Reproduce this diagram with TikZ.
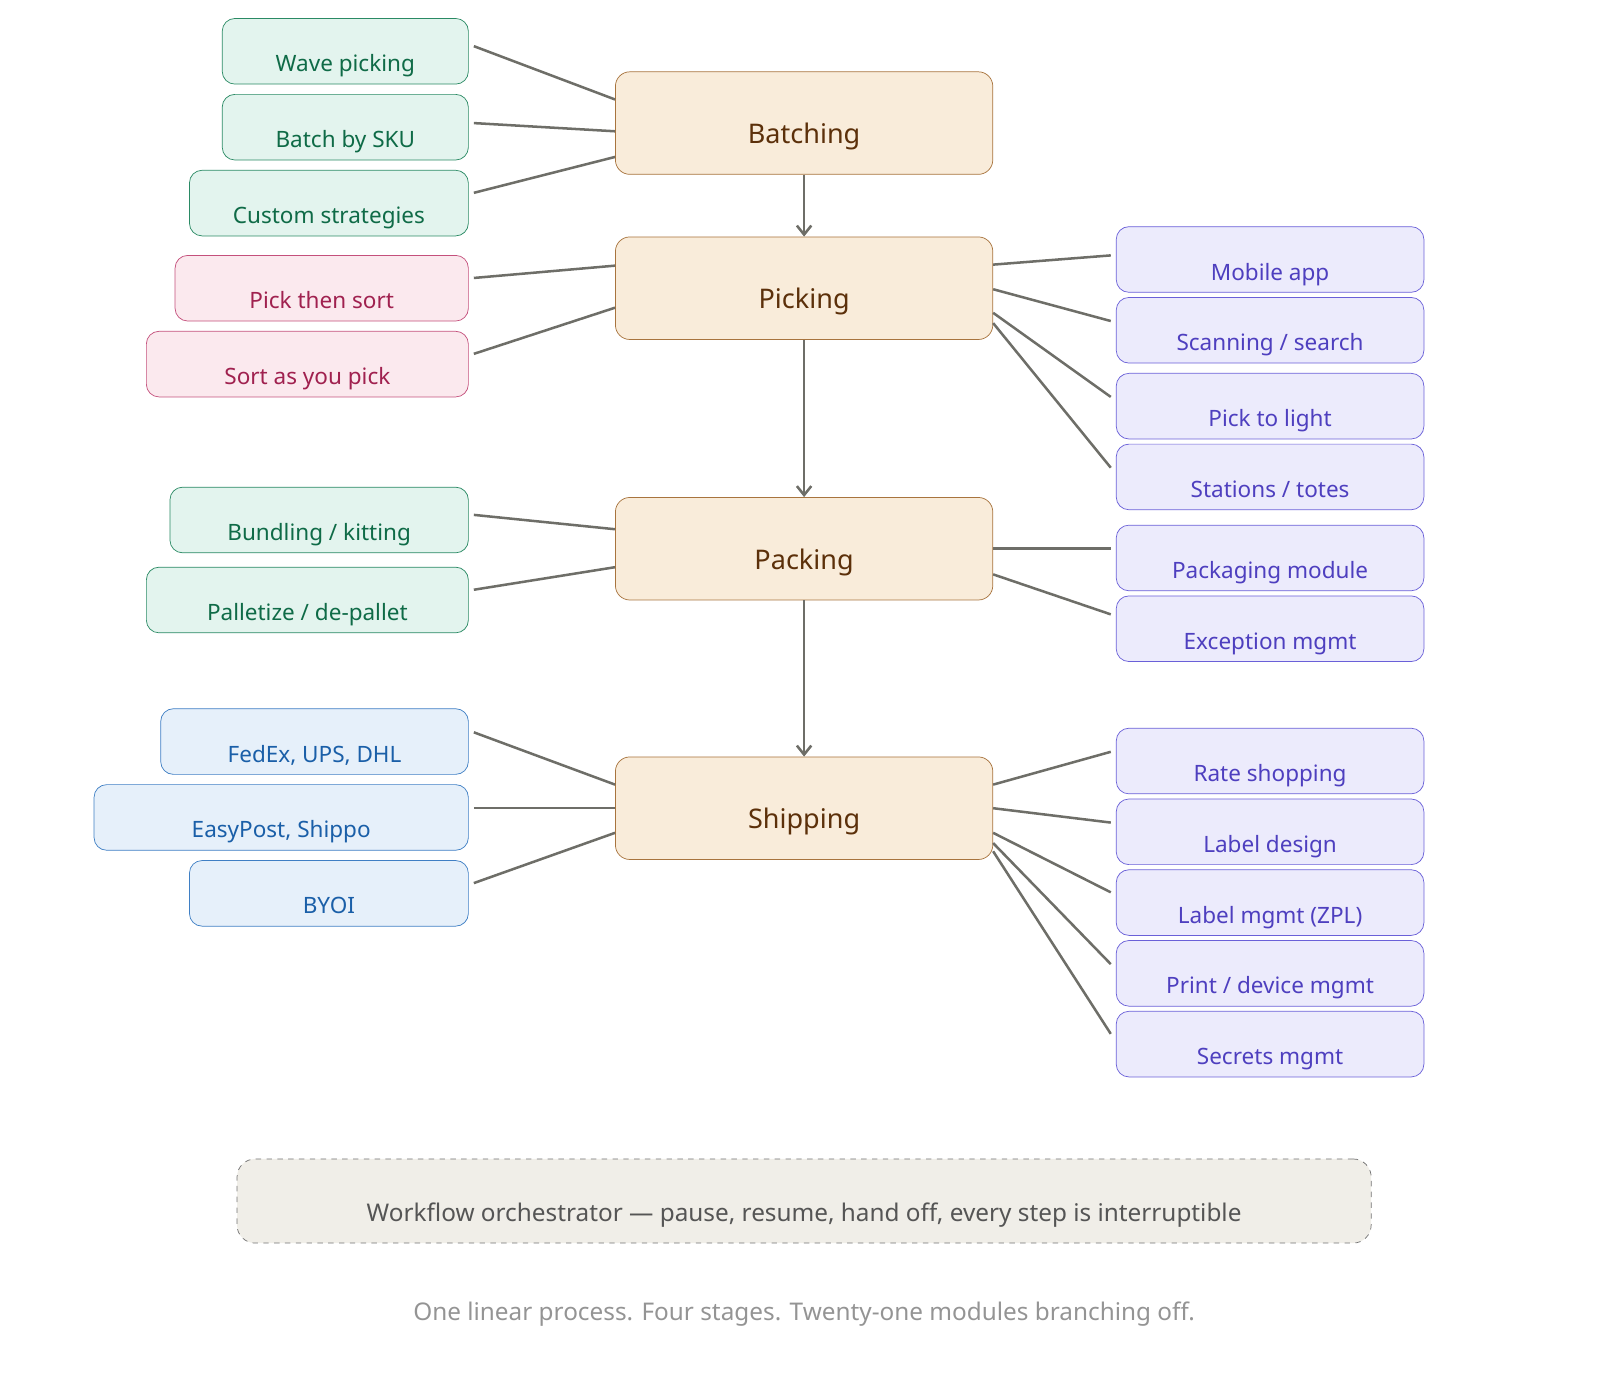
\documentclass[tikz,border=0pt]{standalone}
\usepackage{fontspec}
\setmainfont{Noto Sans}
\usepackage{tikz}
\usetikzlibrary{positioning, arrows.meta, calc}

\definecolor{stagefill}{HTML}{F9ECDA}
\definecolor{stagedraw}{HTML}{A8743E}
\definecolor{stagetext}{HTML}{5C300A}
\definecolor{grfill}{HTML}{E3F4EE}
\definecolor{grdraw}{HTML}{2A8A64}
\definecolor{grtext}{HTML}{0F6B47}
\definecolor{pkfill}{HTML}{FBE9EE}
\definecolor{pkdraw}{HTML}{C4507C}
\definecolor{pktext}{HTML}{A0214F}
\definecolor{blfill}{HTML}{E6F0FA}
\definecolor{bldraw}{HTML}{3F7FC4}
\definecolor{bltext}{HTML}{1A5FA8}
\definecolor{pufill}{HTML}{ECEBFC}
\definecolor{pudraw}{HTML}{6A60D8}
\definecolor{putext}{HTML}{4E3FBF}
\definecolor{linkgray}{HTML}{6E6E68}
\definecolor{orchfill}{HTML}{F0EEE8}
\definecolor{orchtext}{HTML}{555555}

\newcommand{\lowtext}[1]{\raisebox{-0.4cm}[0pt][0pt]{#1}}

\begin{document}
\begin{tikzpicture}[
            x=0.02cm, y=-0.02cm,
            stage/.style={rectangle, rounded corners=8pt, draw=stagedraw, fill=stagefill, text=stagetext,
                minimum width=7.36cm, minimum height=2cm, font=\fontsize{15}{18}\selectfont\bfseries},
            module/.style={rectangle, rounded corners=7pt, minimum height=1.28cm, font=\fontsize{12.5}{15}\selectfont, inner sep=0pt},
            green/.style={module, draw=grdraw, fill=grfill, text=grtext},
            pink/.style={module, draw=pkdraw, fill=pkfill, text=pktext},
            blue/.style={module, draw=bldraw, fill=blfill, text=bltext},
            purple/.style={module, draw=pudraw, fill=pufill, text=putext, minimum width=6cm},
            link/.style={draw=linkgray, line width=1.4pt},
            flow/.style={link, -{Straight Barb[length=5pt,width=8pt]}}
        ]
        \useasboundingbox (0,0) rectangle (1560,1353);

        % Stages
        \node[stage] (batching) at (784,120) {\lowtext{Batching}};
        \node[stage] (picking) at (784,281) {\lowtext{Picking}};
        \node[stage] (packing) at (784,535) {\lowtext{Packing}};
        \node[stage] (shipping) at (784,788) {\lowtext{Shipping}};

        \draw[flow] (batching) -- (picking);
        \draw[flow] (picking) -- (packing);
        \draw[flow] (packing) -- (shipping);

        % Left modules
        \node[green, minimum width=4.8cm, anchor=east] (wave) at (457,50) {\lowtext{Wave picking}};
        \node[green, minimum width=4.8cm, anchor=east] (sku) at (457,124) {\lowtext{Batch by SKU}};
        \node[green, minimum width=5.44cm, anchor=east] (custom) at (457,198) {\lowtext{Custom strategies}};
        \node[pink, minimum width=5.72cm, anchor=east] (pts) at (457,281) {\lowtext{Pick then sort}};
        \node[pink, minimum width=6.28cm, anchor=east] (sayp) at (457,355) {\lowtext{Sort as you pick}};
        \node[green, minimum width=5.82cm, anchor=east] (bundle) at (457,507) {\lowtext{Bundling / kitting}};
        \node[green, minimum width=6.28cm, anchor=east] (pallet) at (457,585) {\lowtext{Palletize / de-pallet}};
        \node[blue, minimum width=6cm, anchor=east] (carriers) at (457,723) {\lowtext{FedEx, UPS, DHL}};
        \node[blue, minimum width=7.3cm, anchor=east] (easypost) at (457,797) {\lowtext{EasyPost, Shippo}};
        \node[blue, minimum width=5.44cm, anchor=east] (byoi) at (457,871) {\lowtext{BYOI}};

        % Right modules
        \node[purple, anchor=west] (mobile) at (1088,253) {\lowtext{Mobile app}};
        \node[purple, anchor=west] (scan) at (1088,322) {\lowtext{Scanning / search}};
        \node[purple, anchor=west] (light) at (1088,396) {\lowtext{Pick to light}};
        \node[purple, anchor=west] (totes) at (1088,465) {\lowtext{Stations / totes}};
        \node[purple, anchor=west] (packmod) at (1088,544) {\lowtext{Packaging module}};
        \node[purple, anchor=west] (except) at (1088,613) {\lowtext{Exception mgmt}};
        \node[purple, anchor=west] (rate) at (1088,742) {\lowtext{Rate shopping}};
        \node[purple, anchor=west] (labeldes) at (1088,811) {\lowtext{Label design}};
        \node[purple, anchor=west] (zpl) at (1088,880) {\lowtext{Label mgmt (ZPL)}};
        \node[purple, anchor=west] (print) at (1088,949) {\lowtext{Print / device mgmt}};
        \node[purple, anchor=west] (secrets) at (1088,1018) {\lowtext{Secrets mgmt}};

        % Left links
        \draw[link] ($(wave.east)+(5,-5)$) -- ($(batching.west)+(0,-23)$);
        \draw[link] ($(sku.east)+(5,-4)$) -- ($(batching.west)+(0,8)$);
        \draw[link] ($(custom.east)+(5,-10)$) -- ($(batching.west)+(0,33)$);
        \draw[link] ($(pts.east)+(5,-10)$) -- ($(picking.west)+(0,-22)$);
        \draw[link] ($(sayp.east)+(5,-10)$) -- ($(picking.west)+(0,19)$);
        \draw[link] ($(bundle.east)+(5,-5)$) -- ($(packing.west)+(0,-19)$);
        \draw[link] ($(pallet.east)+(5,-10)$) -- ($(packing.west)+(0,18)$);
        \draw[link] ($(carriers.east)+(5,-9)$) -- ($(shipping.west)+(0,-23)$);
        \draw[link] ($(easypost.east)+(5,-9)$) -- (shipping.west);
        \draw[link] ($(byoi.east)+(5,-10)$) -- ($(shipping.west)+(0,24)$);

        % Right links
        \draw[link] ($(picking.east)+(0,-23)$) -- ($(mobile.west)+(-5,-4)$);
        \draw[link] ($(picking.east)+(0,1)$) -- ($(scan.west)+(-5,-9)$);
        \draw[link] ($(picking.east)+(0,24)$) -- ($(light.west)+(-5,-9)$);
        \draw[link] ($(picking.east)+(0,34)$) -- ($(totes.west)+(-5,-9)$);
        \draw[link] (packing.east) -- ($(packmod.west)+(-5,-9)$);
        \draw[link] ($(packing.east)+(0,25)$) -- ($(except.west)+(-5,-14)$);
        \draw[link] ($(shipping.east)+(0,-23)$) -- ($(rate.west)+(-5,-9)$);
        \draw[link] (shipping.east) -- ($(labeldes.west)+(-5,-9)$);
        \draw[link] ($(shipping.east)+(0,24)$) -- ($(zpl.west)+(-5,-10)$);
        \draw[link] ($(shipping.east)+(0,34)$) -- ($(print.west)+(-5,-9)$);
        \draw[link] ($(shipping.east)+(0,42)$) -- ($(secrets.west)+(-5,-10)$);

        % Orchestrator and caption
        \node[rectangle, rounded corners=10pt, draw=black!55, dashed, fill=orchfill,
            minimum width=22.12cm, minimum height=1.64cm, text=orchtext,
            font=\fontsize{13.5}{16}\selectfont] (orch) at (784,1171)
            {\lowtext{Workflow orchestrator — pause, resume, hand off, every step is interruptible}};
        \node[text=black!42, font=\fontsize{13.5}{16}\selectfont] (caption) at (784,1281)
            {One linear process. Four stages. Twenty-one modules branching off.};
\end{tikzpicture}
\end{document}
